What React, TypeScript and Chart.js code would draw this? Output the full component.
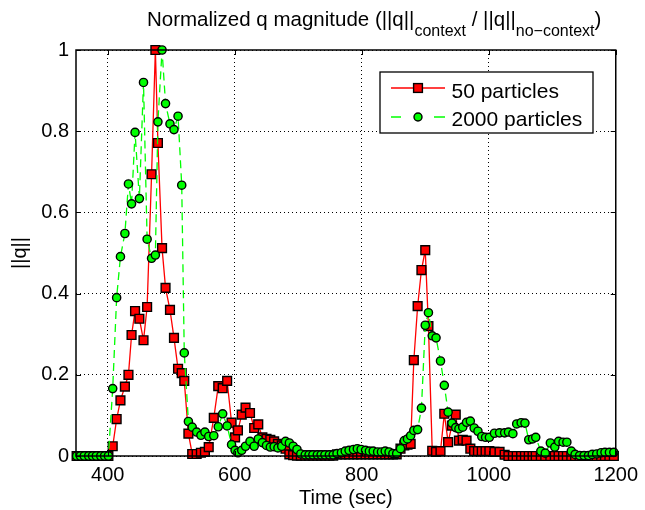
import React, { useEffect, useRef } from "react";
import { Chart, registerables } from "chart.js";

Chart.register(...registerables);

// Time stamps (sec), shared by both series
const times = [
  351, 357, 363, 370, 376, 382, 389, 395, 401, 407.8,
  414, 420, 427, 432.6, 437.5, 443, 449.8, 456.3, 462, 469,
  475, 479, 485.5, 491, 498, 504.3, 510.7, 516.5, 520.5, 527,
  533, 540, 546.7, 553, 559, 567, 574, 581, 588, 595,
  600.5, 605, 611, 617, 624, 630.6, 637, 643.5, 650, 656,
  662, 668, 674, 680, 686, 692, 698, 704, 711, 717,
  723, 730, 736, 742, 749, 755, 761, 768, 774, 780,
  787, 793, 799, 806, 812, 818, 825, 831, 837, 843,
  849, 855, 861, 867, 872, 877, 882, 888, 894, 900,
  905, 911, 917, 924, 930, 936, 942, 948, 953, 959,
  965, 971, 977, 983, 989, 995, 1001, 1009, 1017, 1025,
  1031, 1038, 1044, 1051, 1057, 1063, 1069, 1074, 1082, 1089,
  1097, 1104, 1110, 1117, 1123, 1130, 1136, 1143, 1150, 1157,
  1163, 1170, 1177, 1183, 1190, 1197,
];

// ||q|| with 50 particles
const q50 = [
  0, 0, 0, 0, 0, 0, 0, 0, 0, 0.024,
  0.091, 0.137, 0.171, 0.2, 0.298, 0.357, 0.338, 0.285, 0.367, 0.694,
  1.0, 0.771, 0.512, 0.414, 0.36, 0.291, 0.215, 0.204, 0.185, 0.055,
  0.005, 0.005, 0.008, 0.01, 0.022, 0.094, 0.172, 0.167, 0.185, 0.082,
  0.046, 0.063, 0.102, 0.119, 0.106, 0.069, 0.078, 0.046, 0.042, 0.04,
  0.036, 0.03, 0.026, 0.018, 0.004, 0.002, 0.001, 0.001, 0.001, 0.001,
  0.001, 0.001, 0.001, 0.001, 0.001, 0.001, 0.004, 0.004, 0.004, 0.004,
  0.004, 0.004, 0.004, 0.004, 0.004, 0.004, 0.004, 0.004, 0.004, 0.004,
  0.004, 0.004, 0.018, 0.026, 0.028, 0.03, 0.236, 0.369, 0.458, 0.507,
  0.32, 0.013, 0.01, 0.012, 0.104, 0.034, 0.075, 0.102, 0.038, 0.04,
  0.038, 0.018, 0.012, 0.012, 0.012, 0.012, 0.012, 0.01, 0.01, 0.003,
  0, 0, 0, 0, 0, 0, 0, 0, 0, 0,
  0, 0, 0, 0, 0, 0, 0, 0, 0, 0,
  0, 0, 0, 0, 0, 0,
];

// ||q|| with 2000 particles
const q2000 = [
  0, 0, 0, 0, 0, 0, 0, 0, 0, 0.166,
  0.39, 0.491, 0.548, 0.67, 0.621, 0.797, 0.634, 0.92, 0.534, 0.487,
  0.495, 0.823, 1.0, 0.868, 0.818, 0.804, 0.837, 0.667, 0.254, 0.085,
  0.071, 0.059, 0.051, 0.059, 0.048, 0.05, 0.072, 0.104, 0.074, 0.028,
  0.014, 0.008, 0.014, 0.024, 0.036, 0.024, 0.042, 0.033, 0.026, 0.022,
  0.023, 0.02, 0.024, 0.036, 0.032, 0.024, 0.016, 0.005, 0.003, 0.003,
  0.003, 0.003, 0.003, 0.003, 0.003, 0.003, 0.006, 0.008, 0.012, 0.014,
  0.016, 0.018, 0.016, 0.014, 0.012, 0.012, 0.01, 0.01, 0.012, 0.01,
  0.006, 0.006, 0.018, 0.038, 0.042, 0.05, 0.063, 0.065, 0.118, 0.322,
  0.353, 0.296, 0.291, 0.234, 0.174, 0.108, 0.081, 0.07, 0.067, 0.071,
  0.083, 0.086, 0.069, 0.061, 0.048, 0.046, 0.046, 0.056, 0.057, 0.057,
  0.059, 0.055, 0.079, 0.082, 0.081, 0.04, 0.042, 0.046, 0.012, 0.007,
  0.032, 0.022, 0.036, 0.034, 0.034, 0.012, 0.004, 0.001, 0.001, 0.001,
  0.004, 0.005, 0.008, 0.009, 0.009, 0.009,
];

const xTicks = [400, 600, 800, 1000, 1200];
const yTicks = [0, 0.2, 0.4, 0.6, 0.8, 1];
const seriesLabels = ["50 particles", "2000 particles"];
const xTitle = "Time (sec)";
const yTitle = "||q||";
const titleParts = [
  { text: "Normalized q magnitude (||q||", sub: false },
  { text: "context", sub: true },
  { text: " / ||q||", sub: false },
  { text: "no\u2212context", sub: true },
  { text: ")", sub: false },
];

const FONT = "'Liberation Sans', Arial, Helvetica, sans-serif";
const RED = "#ff0000";
const GREEN = "#00ff00";

export default function App() {
  const ref = useRef<HTMLCanvasElement>(null);

  useEffect(() => {
    const canvas = ref.current;
    if (!canvas) return;

    const decor = {
      id: "decor",
      afterDraw(chart: any) {
        const { ctx, chartArea } = chart;
        const { left, right, top, bottom } = chartArea;
        const xs = chart.scales.x;
        const ys = chart.scales.y;
        ctx.save();
        // frame
        ctx.strokeStyle = "#000";
        ctx.lineWidth = 1.5;
        ctx.setLineDash([]);
        ctx.strokeRect(left, top, right - left, bottom - top);
        // inward ticks
        ctx.lineWidth = 1;
        ctx.beginPath();
        xTicks.forEach((v) => {
          const px = Math.round(xs.getPixelForValue(v)) + 0.5;
          ctx.moveTo(px, bottom);
          ctx.lineTo(px, bottom - 5);
          ctx.moveTo(px, top);
          ctx.lineTo(px, top + 5);
        });
        yTicks.forEach((v) => {
          const py = Math.round(ys.getPixelForValue(v)) + 0.5;
          ctx.moveTo(left, py);
          ctx.lineTo(left + 5, py);
          ctx.moveTo(right, py);
          ctx.lineTo(right - 5, py);
        });
        ctx.stroke();

        // title with subscripts
        let tx = 147;
        const base = 25.7;
        ctx.fillStyle = "#000";
        ctx.textBaseline = "alphabetic";
        ctx.textAlign = "left";
        titleParts.forEach((p) => {
          ctx.font = `${p.sub ? 16 : 20.5}px ${FONT}`;
          ctx.fillText(p.text, tx, p.sub ? base + 10 : base);
          tx += ctx.measureText(p.text).width;
        });

        // legend
        const lx = 380, ly = 72, lw = 213, lh = 61;
        ctx.fillStyle = "#fff";
        ctx.fillRect(lx, ly, lw, lh);
        ctx.strokeStyle = "#000";
        ctx.lineWidth = 1.3;
        ctx.strokeRect(lx, ly, lw, lh);

        // row 1: red line + square
        const r1 = 88;
        ctx.strokeStyle = RED;
        ctx.lineWidth = 1.3;
        ctx.beginPath();
        ctx.moveTo(391, r1);
        ctx.lineTo(445, r1);
        ctx.stroke();
        ctx.fillStyle = RED;
        ctx.fillRect(418 - 4.4, r1 - 4.4, 8.8, 8.8);
        ctx.strokeStyle = "#000";
        ctx.lineWidth = 1.4;
        ctx.strokeRect(418 - 4.4, r1 - 4.4, 8.8, 8.8);

        // row 2: green dashed + circle
        const r2 = 117;
        ctx.strokeStyle = GREEN;
        ctx.lineWidth = 1.3;
        ctx.beginPath();
        ctx.moveTo(391, r2);
        ctx.lineTo(401, r2);
        ctx.moveTo(434, r2);
        ctx.lineTo(445, r2);
        ctx.stroke();
        ctx.beginPath();
        ctx.arc(418, r2, 4, 0, Math.PI * 2);
        ctx.fillStyle = GREEN;
        ctx.fill();
        ctx.strokeStyle = "#000";
        ctx.lineWidth = 1.4;
        ctx.stroke();

        ctx.fillStyle = "#000";
        ctx.font = `21px ${FONT}`;
        ctx.fillText(seriesLabels[0], 451.5, 97.7);
        ctx.fillText(seriesLabels[1], 451.5, 125.7);
        ctx.restore();
      },
    };

    const tickFont = { family: FONT, size: 20 };

    const chart = new Chart(canvas, {
      type: "scatter",
      data: {
        datasets: [
          {
            label: seriesLabels[0],
            data: times.map((t, i) => ({ x: t, y: q50[i] })),
            showLine: true,
            borderColor: RED,
            borderWidth: 1.3,
            tension: 0,
            pointStyle: "rect",
            pointRadius: 6.2,
            pointBackgroundColor: RED,
            pointBorderColor: "#000",
            pointBorderWidth: 1.4,
            clip: false,
            order: 2,
          },
          {
            label: seriesLabels[1],
            data: times.map((t, i) => ({ x: t, y: q2000[i] })),
            showLine: true,
            borderColor: GREEN,
            borderWidth: 1.3,
            borderDash: [8, 5],
            tension: 0,
            pointStyle: "circle",
            pointRadius: 4.1,
            pointBackgroundColor: GREEN,
            pointBorderColor: "#000",
            pointBorderWidth: 1.4,
            clip: false,
            order: 1,
          },
        ],
      } as any,
      options: {
        responsive: false,
        animation: false,
        devicePixelRatio: 1,
        events: [],
        layout: { padding: { top: 50, right: 23, left: 0, bottom: 0 } },
        plugins: {
          legend: { display: false },
          tooltip: { enabled: false },
          title: { display: false },
        },
        scales: {
          x: {
            type: "linear",
            min: 350,
            max: 1200,
            afterBuildTicks: (s: any) => {
              s.ticks = xTicks.map((v) => ({ value: v }));
            },
            afterFit: (s: any) => {
              s.height = 54;
            },
            ticks: {
              font: tickFont,
              color: "#000",
              padding: 7,
              maxRotation: 0,
              autoSkip: false,
              callback: (v: any) => String(v),
            },
            grid: { color: "#000", lineWidth: 1, drawTicks: false },
            border: { display: false, dash: [1, 3] },
            title: {
              display: true,
              text: xTitle,
              color: "#000",
              font: { family: FONT, size: 20 },
              padding: { top: 0, bottom: 0 },
            },
          },
          y: {
            type: "linear",
            min: 0,
            max: 1,
            afterBuildTicks: (s: any) => {
              s.ticks = yTicks.map((v) => ({ value: v }));
            },
            afterFit: (s: any) => {
              s.width = 76;
            },
            ticks: {
              font: tickFont,
              color: "#000",
              padding: 7,
              autoSkip: false,
              callback: (v: any) => String(v),
            },
            grid: { color: "#000", lineWidth: 1, drawTicks: false },
            border: { display: false, dash: [1, 3] },
            title: {
              display: true,
              text: yTitle,
              color: "#000",
              font: { family: FONT, size: 20 },
              padding: { top: 8, bottom: 0 },
            },
          },
        },
      } as any,
      plugins: [decor],
    });

    return () => chart.destroy();
  }, []);

  return (
    <div
      style={{
        position: "fixed",
        left: 0,
        top: 0,
        width: 645,
        height: 510,
        background: "#fff",
      }}
    >
      <canvas
        ref={ref}
        width={645}
        height={510}
        style={{ display: "block", width: 645, height: 510 }}
      />
    </div>
  );
}
